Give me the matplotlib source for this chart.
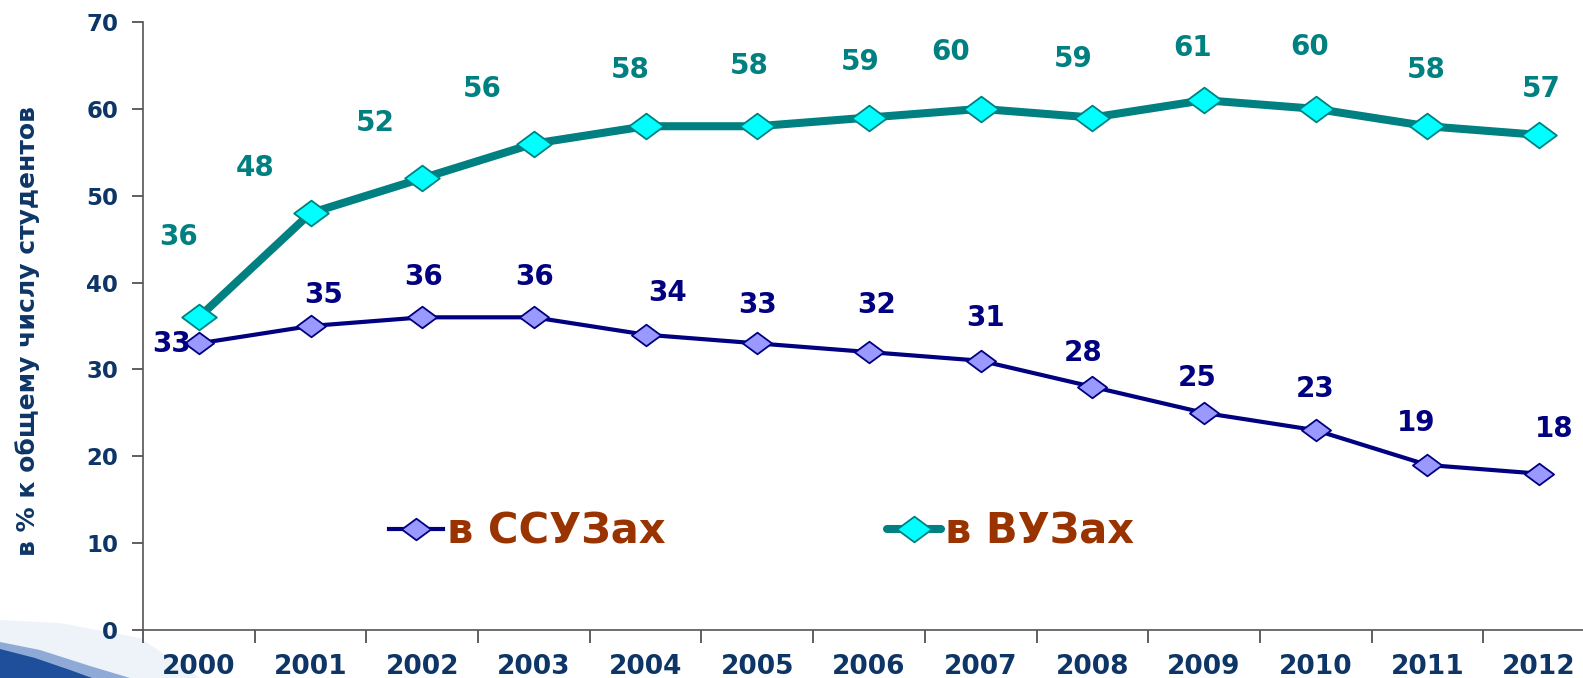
import matplotlib
matplotlib.use("Agg")
import matplotlib.pyplot as plt
import numpy as np
from matplotlib.path import Path
from matplotlib.patches import Polygon

years = ["2000", "2001", "2002", "2003", "2004", "2005", "2006",
         "2007", "2008", "2009", "2010", "2011", "2012"]
ssuz = [33, 35, 36, 36, 34, 33, 32, 31, 28, 25, 23, 19, 18]
vuz = [36, 48, 52, 56, 58, 58, 59, 60, 59, 61, 60, 58, 57]
yticks = [0, 10, 20, 30, 40, 50, 60, 70]
ylabel = "в % к общему числу студентов"
labels = ["в ССУЗах", "в ВУЗах"]

# label offsets in pixels (dx, dy)
vuz_off = [(-20, 80), (-55, 45), (-47, 55), (-52, 55), (-15, 56), (-8, 60), (-9, 56),
           (-30, 57), (-19, 59), (-12, 52), (-6, 62), (-1, 56), (2, 46)]
ssuz_off = [(-27, -1), (13, 31), (1, 40), (1, 40), (22, 42), (0, 38), (8, 47),
            (5, 43), (-9, 34), (-7, 35), (-1, 41), (-11, 42), (15, 45)]

plt.rcParams['font.family'] = ['DejaVu Sans']
fig = plt.figure(figsize=(15.83, 6.78), dpi=100)
ax = fig.add_axes([143 / 1583, 1 - 630 / 678, 1452 / 1583, (630 - 22) / 678])
ax.set_facecolor('none')

diamond = Path([(-0.5, 0), (0, 0.37), (0.5, 0), (0, -0.37), (-0.5, 0)],
               [Path.MOVETO, Path.LINETO, Path.LINETO, Path.LINETO, Path.CLOSEPOLY])

navy = '#000080'
teal = '#008080'
x = np.arange(len(years))
ax.plot(x, ssuz, color=navy, lw=3.0, marker=diamond, ms=21,
        mfc='#9999FF', mec=navy, mew=1.3, label=labels[0], zorder=3)
ax.plot(x, vuz, color=teal, lw=5.8, marker=diamond, ms=25,
        mfc='#00FFFF', mec=teal, mew=1.3, label=labels[1], zorder=3,
        solid_capstyle='round')

for xi, v, (dx, dy) in zip(x, vuz, vuz_off):
    ax.annotate(str(v), (xi, v), xytext=(dx, dy), textcoords='offset pixels',
                ha='center', va='center', fontsize=20, fontweight='bold', color=teal)
for xi, v, (dx, dy) in zip(x, ssuz, ssuz_off):
    ax.annotate(str(v), (xi, v), xytext=(dx, dy), textcoords='offset pixels',
                ha='center', va='center', fontsize=20, fontweight='bold', color=navy)

tickc = '#0D3566'
ax.set_xlim(-0.5, len(years) - 0.5)
ax.set_ylim(0, 70)
ax.set_yticks(yticks)
ax.set_xticks(x)
ax.set_xticklabels(years)
ax.set_xticks(np.arange(-0.5, len(years), 1.0), minor=True)
ax.tick_params(axis='x', which='major', length=0, pad=17, labelsize=19, labelcolor=tickc)
ax.tick_params(axis='x', which='minor', length=9, width=1.2, color='#444444', direction='out')
ax.tick_params(axis='y', length=8, width=1.2, color='#444444', labelsize=16.5,
               labelcolor=tickc, pad=10)
for lab in ax.get_xticklabels() + ax.get_yticklabels():
    lab.set_fontweight('bold')
for s in ['top', 'right']:
    ax.spines[s].set_visible(False)
for s in ['left', 'bottom']:
    ax.spines[s].set_color('#555555')
    ax.spines[s].set_linewidth(1.2)

fig.text(28 / 1583, 1 - 331 / 678, ylabel, rotation=90, ha='center', va='center',
         fontsize=18, fontweight='bold', color=tickc)

leg = ax.legend(loc='center left', bbox_to_anchor=((389 - 143) / 1452, (630 - 532) / 608),
                ncol=2, frameon=False, fontsize=30, handlelength=1.3, handletextpad=0.1,
                columnspacing=5.3, borderaxespad=0, borderpad=0)
for t in leg.get_texts():
    t.set_color('#993300')
    t.set_fontweight('bold')

# decorative blue swoosh bottom-left
haze = Polygon([(0, 0), (0, 58 / 678), (60 / 1583, 55 / 678), (140 / 1583, 40 / 678),
                (200 / 1583, 0)], closed=True, transform=fig.transFigure,
               facecolor='#E4ECF6', edgecolor='none', zorder=-3, alpha=0.6)
sw2 = Polygon([(0, 0), (0, 36 / 678), (40 / 1583, 28 / 678), (90 / 1583, 12 / 678),
               (130 / 1583, 0)], closed=True, transform=fig.transFigure,
              facecolor='#8FAAD6', edgecolor='none', zorder=-2)
sw = Polygon([(0, 0), (0, 29 / 678), (35 / 1583, 20 / 678), (70 / 1583, 8 / 678),
              (92 / 1583, 0)], closed=True, transform=fig.transFigure,
             facecolor='#1F4E9A', edgecolor='none', zorder=-1)
for p in (haze, sw2, sw):
    fig.patches.append(p)

fig.savefig("out.png", dpi=100)
